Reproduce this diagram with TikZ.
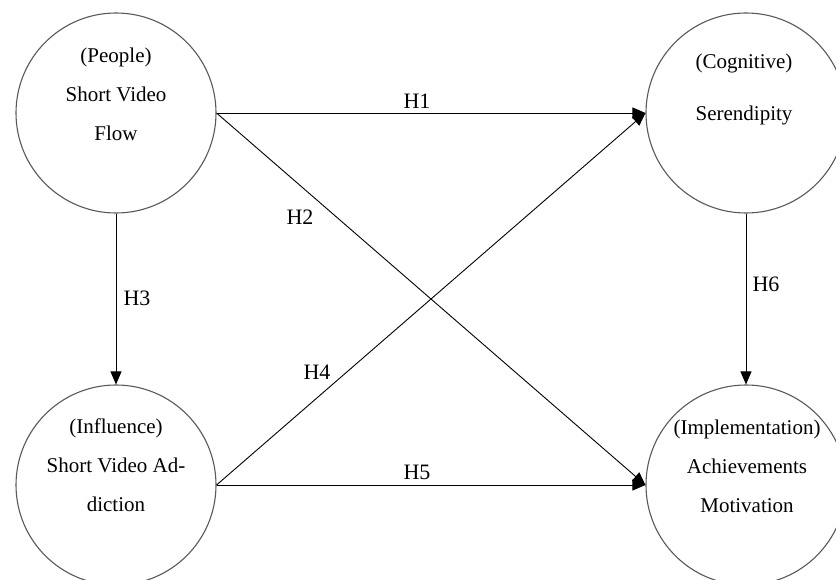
\documentclass[tikz,border=0pt]{standalone}
\usepackage{fontspec}
\setmainfont{Liberation Serif}
\usetikzlibrary{arrows.meta}
\begin{document}
\begin{tikzpicture}[x=1pt,y=-1pt,
  construct/.style={draw=black!65,line width=1.1pt,circle,minimum size=200pt,inner sep=0pt},
  ctext/.style={align=center,font=\fontsize{21}{39}\selectfont,inner sep=0pt},
  hlabel/.style={font=\fontsize{22}{26}\selectfont,inner sep=0pt},
  link/.style={draw=black,line width=0.9pt,-{Triangle[length=13pt,width=11pt]}}]
\useasboundingbox[fill=white] (0,0) rectangle (836,580);
\begin{scope}
\clip (0,0) rectangle (836,580);
\node[construct] (P) at (116,113) {};
\node[construct] (C) at (746,113) {};
\node[construct] (I) at (116,485) {};
\node[construct] (M) at (746,485) {};
\end{scope}
\node[ctext] (Pt) at (116,94) {(People)\\Short Video\\Flow};
\node[ctext] (Ct) at (744,89) {(Cognitive)\\[13pt]Serendipity};
\node[ctext] (It) at (116,465) {(Influence)\\Short Video Ad-\\diction};
\node[ctext] (Mt) at (747,466) {(Implementation)\\Achievements\\Motivation};
\draw[link] (P.east) -- (C.west);
\draw[link] (P.east) -- (M.west);
\draw[link] (P.south) -- (I.north);
\draw[link] (I.east) -- (C.west);
\draw[link] (I.east) -- (M.west);
\draw[link] (C.south) -- (M.north);
\node[hlabel] (h1) at (417,101) {H1};
\node[hlabel] (h2) at (300,217) {H2};
\node[hlabel] (h3) at (137,298) {H3};
\node[hlabel] (h4) at (317,372) {H4};
\node[hlabel] (h5) at (417,472) {H5};
\node[hlabel] (h6) at (766,284) {H6};
\end{tikzpicture}
\end{document}
